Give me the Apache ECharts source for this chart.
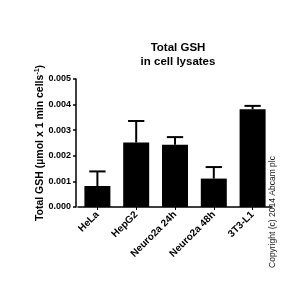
<!DOCTYPE html>
<html><head><meta charset="utf-8">
<script src="https://cdn.jsdelivr.net/npm/echarts@6/dist/echarts.min.js"></script>
<style>html,body{margin:0;padding:0;background:#fff}#c{width:300px;height:300px}</style>
</head><body><div id="c"></div>
<script>
const categories = ['HeLa', 'HepG2', 'Neuro2a 24h', 'Neuro2a 48h', '3T3-L1'];
const means = [0.00082, 0.00252, 0.00243, 0.00111, 0.00382];
const errUpper = [0.00139, 0.00336, 0.00273, 0.00156, 0.00395];
const yTicks = ['0.000', '0.001', '0.002', '0.003', '0.004', '0.005'];

const font = 'Liberation Sans, Arial, sans-serif';
const chart = echarts.init(document.getElementById('c'), null, {renderer: 'canvas'});
chart.setOption({
  animation: false,
  title: {
    text: 'Total GSH\nin cell lysates',
    left: 173, top: 36, textAlign: 'center',
    textStyle: {fontFamily: font, fontSize: 11.5, fontWeight: 'bold', color: '#000', lineHeight: 14}
  },
  grid: {left: 78, top: 79, width: 194, height: 128, containLabel: false},
  xAxis: {
    type: 'category', data: categories,
    axisLine: {lineStyle: {color: '#000', width: 1.5}},
    axisTick: {show: true, alignWithLabel: true, length: 3, lineStyle: {color: '#000', width: 1}},
    axisLabel: {rotate: 45, margin: 6, fontFamily: font, fontSize: 10, fontWeight: 'bold', color: '#000', interval: 0}
  },
  yAxis: {
    type: 'value', min: 0, max: 0.005, interval: 0.001, offset: 2,
    name: 'Total GSH (µmol x 1 min cells{sup|-1})',
    nameLocation: 'middle', nameGap: 29, nameRotate: 90, nameMoveOverlap: false,
    nameTextStyle: {fontFamily: font, fontSize: 10.5, fontWeight: 'bold', color: '#000',
      rich: {sup: {fontFamily: font, fontSize: 7, fontWeight: 'bold', color: '#000', verticalAlign: 'top', padding: [0, 0, 6, 0]}}},
    splitLine: {show: false},
    axisLine: {show: true, lineStyle: {color: '#000', width: 1.5}},
    axisTick: {show: true, length: 3, lineStyle: {color: '#000', width: 1.5}},
    axisLabel: {margin: 5, fontFamily: font, fontSize: 9, fontWeight: 'bold', color: '#000',
      formatter: (v) => yTicks[Math.round(v / 0.001)]}
  },
  series: [
    {type: 'bar', data: means, barWidth: '67%', itemStyle: {color: '#000'}, z: 2},
    {
      type: 'custom', z: 3,
      data: categories.map((c, i) => [i, means[i], errUpper[i]]),
      renderItem: function (params, api) {
        const i = api.value(0);
        const p0 = api.coord([i, api.value(1)]);
        const p1 = api.coord([i, api.value(2)]);
        const half = api.size([1, 0])[0] * 0.21;
        const st = {stroke: '#000', lineWidth: 2};
        return {type: 'group', children: [
          {type: 'line', shape: {x1: p0[0], y1: p0[1], x2: p1[0], y2: p1[1]}, style: st},
          {type: 'line', shape: {x1: p1[0] - half, y1: p1[1], x2: p1[0] + half, y2: p1[1]}, style: st}
        ]};
      }
    }
  ],
  graphic: [{
    type: 'text', x: 272.5, y: 212, rotation: Math.PI / 2,
    style: {text: 'Copyright (c) 2014 Abcam plc', fontFamily: font, fontSize: 8.5, fill: '#222',
      align: 'center', verticalAlign: 'middle'}
  }]
});
</script></body></html>
